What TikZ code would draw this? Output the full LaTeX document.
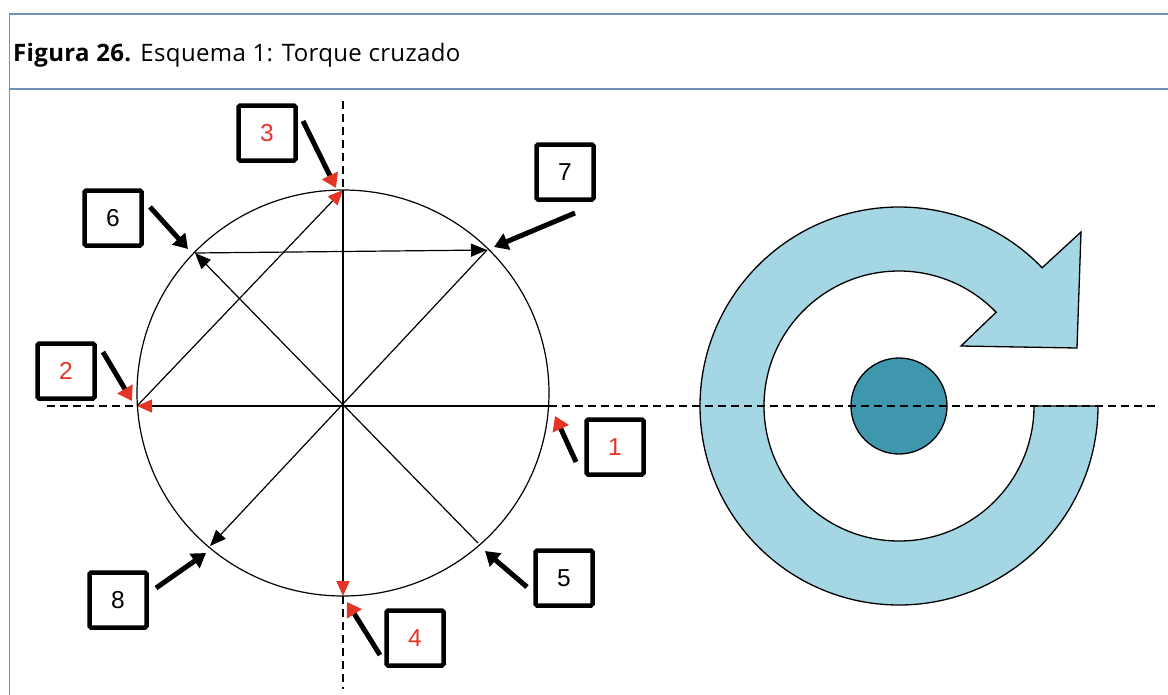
\documentclass[tikz,border=0pt]{standalone}
\usepackage{fontspec}
\setmainfont{Open Sans}[LetterSpace=1.5]
\newfontfamily\numfont{Liberation Sans}
\usetikzlibrary{arrows.meta,calc}

\definecolor{framec}{RGB}{112,146,184}
\definecolor{numred}{RGB}{228,52,38}
\definecolor{ringblue}{RGB}{165,214,227}
\definecolor{hubblue}{RGB}{63,151,174}

\tikzset{
  numbox/.style={draw=black, line width=4.5pt, rounded corners=1.5pt, fill=white,
    minimum width=57pt, minimum height=55pt, inner sep=0pt,
    font=\numfont\fontsize{24.5}{24.5}\selectfont},
  rednum/.style={numbox, text=numred},
  chord/.style={line width=1.2pt, black},
  chordred/.style={chord, -{Triangle[length=15pt,width=13pt,color=numred]}},
  chordblack/.style={chord, -{Triangle[length=16pt,width=13pt]}},
  pointer/.style={line width=5pt, black, -{Triangle[length=14pt,width=17pt]}},
  pointerred/.style={line width=5pt, black, -{Triangle[length=14pt,width=17pt,color=numred]}},
  axis/.style={line width=1.3pt, dash pattern=on 8pt off 5pt},
  outline/.style={line width=1.3pt, black}
}

\begin{document}
\begin{tikzpicture}[x=1pt, y=-1pt]
\useasboundingbox (0,0) rectangle (1168,694);
\fill[white] (0,0) rectangle (1168,694);

% frame and caption
\draw[framec, line width=1.6pt] (1170,14) -- (9.5,14) -- (9.5,696);
\draw[framec, line width=1.8pt] (9.5,89) -- (1170,89);
\node[anchor=base west, inner sep=0pt, font=\fontsize{24}{24}\selectfont] (caption) at (13,61)
  {\textbf{Figura 26.} Esquema 1: Torque cruzado};

% points on the wheel
\coordinate (p1) at (549,406);
\coordinate (p2) at (137,406);
\coordinate (p3) at (343,190);
\coordinate (p4) at (343,596);
\coordinate (p5) at (478,543);
\coordinate (p6) at (195,253);
\coordinate (p7) at (487,250);
\coordinate (p8) at (210,546);

% reference axes
\coordinate (hl) at (47,406);
\coordinate (hr) at (1155,406);
\coordinate (vt) at (343,101);
\coordinate (vb) at (343,689);

% torque symbol (drawn first, axis passes over it)
\coordinate (hub) at (899,406);
\filldraw[outline, fill=ringblue]
  ($(hub)+(-44:199)$) arc[start angle=-44, end angle=-360, radius=199]
  -- ++(-64,0)
  arc[start angle=0, end angle=316, radius=135]
  -- (961,346) -- (1077,348) -- (1081,232) -- cycle;
\filldraw[outline, fill=hubblue] (hub) circle[radius=48];

% wheel
\draw[chord] (343,393) ellipse[x radius=206, y radius=203];

\draw[axis] (hl) -- (p2);
\draw[axis] (p1) -- (hr);
\draw[axis] (vt) -- (p3);
\draw[axis] (p4) -- (vb);

% tightening sequence
\draw[chordred] (p1) -- (p2);
\draw[chordred] (p2) -- (p3);
\draw[chordred] (p3) -- (p4);
\draw[chordblack] (p5) -- (p6);
\draw[chordblack] (p6) -- (p7);
\draw[chordblack] (p7) -- (p8);

% numbered labels
\node[rednum] (b1) at (615,447) {1};
\node[rednum] (b2) at (66,371) {2};
\node[rednum] (b3) at (267,133) {3};
\node[rednum] (b4) at (415,638) {4};
\node[numbox] (b5) at (564,578) {5};
\node[numbox] (b6) at (113,218) {6};
\node[numbox] (b7) at (565,172) {7};
\node[numbox] (b8) at (118,600) {8};

% pointer arrows
\coordinate (s1) at (576,462); \coordinate (t1) at (555,416);
\coordinate (s2) at (103,352); \coordinate (t2) at (132,401);
\coordinate (s3) at (303,121); \coordinate (t3) at (336,188);
\coordinate (s4) at (380,655); \coordinate (t4) at (347,602);
\coordinate (s5) at (527,587); \coordinate (t5) at (485,551);
\coordinate (s6) at (150,207); \coordinate (t6) at (188,249);
\coordinate (s7) at (575,213); \coordinate (t7) at (494,247);
\coordinate (s8) at (156,588); \coordinate (t8) at (206,553);

\draw[pointerred] (s1) -- (t1);
\draw[pointerred] (s2) -- (t2);
\draw[pointerred] (s3) -- (t3);
\draw[pointerred] (s4) -- (t4);
\draw[pointer] (s5) -- (t5);
\draw[pointer] (s6) -- (t6);
\draw[pointer] (s7) -- (t7);
\draw[pointer] (s8) -- (t8);
\end{tikzpicture}
\end{document}
